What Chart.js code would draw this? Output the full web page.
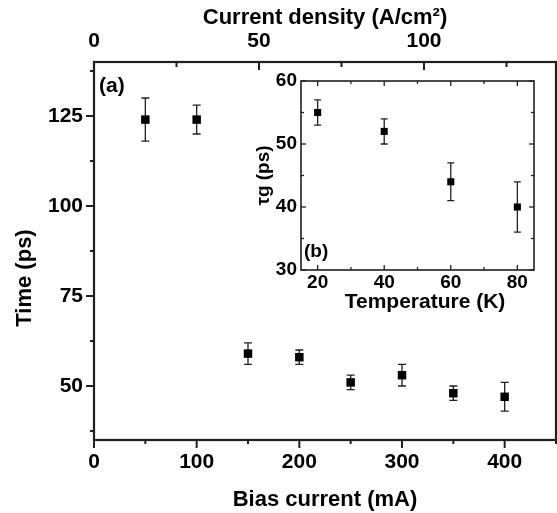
<!DOCTYPE html>
<html><head><meta charset="utf-8">
<script src="https://cdn.jsdelivr.net/npm/chart.js@4.4.0/dist/chart.umd.min.js"></script>
<style>
html,body{margin:0;padding:0;background:#fff;}
#wrap{position:relative;width:557px;height:513px;overflow:hidden;}
#main{position:absolute;left:0;top:0;}
#inset{position:absolute;left:240px;top:60px;}
</style></head><body>
<div id="wrap">
<canvas id="main" width="557" height="513"></canvas>
<canvas id="inset" width="305" height="260"></canvas>
</div>
<script>
// ---- data ----
const biasCurrent = [50, 100, 150, 200, 250, 300, 350, 400];
const timeValues  = [124, 124, 59, 58, 51, 53, 48, 47];
const timeErrors  = [6, 4, 3, 2, 2, 3, 2, 4];

const temperature = [20, 40, 60, 80];
const tauValues   = [55, 52, 44, 40];
const tauErrors   = [2, 2, 3, 4];

const biasTickLabels    = [0, 100, 200, 300, 400];
const timeTickLabels    = [50, 75, 100, 125];
const densityTickLabels = [0, 50, 100];
const tempTickLabels    = [20, 40, 60, 80];
const tempTickMarks     = [20, 30, 40, 50, 60, 70, 80];
const tauTickLabels     = [30, 40, 50, 60];

const FONT = "'Liberation Sans', Arial, Helvetica, sans-serif";
const INK = '#231f20';

function pts(xs, ys) { return xs.map((x, i) => ({x: x, y: ys[i]})); }
function fixH(h) { return s => { s.height = h; s.paddingLeft = 0; s.paddingRight = 0; }; }
function fixW(w) { return s => { s.width = w; s.paddingTop = 0; s.paddingBottom = 0; }; }

function errorBarPlugin(errs, cap, lw) {
  return {
    id: 'errbars',
    beforeDatasetsDraw(chart) {
      const ctx = chart.ctx;
      const xs = chart.scales.x, ys = chart.scales.y;
      ctx.save();
      ctx.strokeStyle = INK; ctx.lineWidth = lw;
      chart.data.datasets[0].data.forEach((p, i) => {
        const px = xs.getPixelForValue(p.x);
        const y1 = ys.getPixelForValue(p.y + errs[i]);
        const y2 = ys.getPixelForValue(p.y - errs[i]);
        ctx.beginPath();
        ctx.moveTo(px, y1); ctx.lineTo(px, y2);
        ctx.moveTo(px - cap, y1); ctx.lineTo(px + cap, y1);
        ctx.moveTo(px - cap, y2); ctx.lineTo(px + cap, y2);
        ctx.stroke();
      });
      ctx.restore();
    }
  };
}

function framePlugin(frameW, specs, texts) {
  return {
    id: 'frame',
    afterDraw(chart) {
      const ctx = chart.ctx, a = chart.chartArea;
      ctx.save();
      ctx.strokeStyle = INK; ctx.lineWidth = frameW;
      ctx.strokeRect(a.left, a.top, a.right - a.left, a.bottom - a.top);
      specs.forEach(sp => {
        const s = chart.scales[sp.scale];
        ctx.lineWidth = sp.width;
        s.ticks.forEach(t => {
          const major = sp.majors.includes(t.value);
          const len = major ? sp.major : sp.minor;
          const p = s.getPixelForValue(t.value);
          ctx.beginPath();
          if (sp.side === 'left') {
            const d = sp.dir === 'out' ? -len : len;
            ctx.moveTo(a.left, p); ctx.lineTo(a.left + d, p);
          } else if (sp.side === 'right') {
            const d = sp.dir === 'out' ? len : -len;
            ctx.moveTo(a.right, p); ctx.lineTo(a.right + d, p);
          } else if (sp.side === 'bottom') {
            const d = sp.dir === 'out' ? len : -len;
            ctx.moveTo(p, a.bottom); ctx.lineTo(p, a.bottom + d);
          } else {
            const d = sp.dir === 'out' ? -len : len;
            ctx.moveTo(p, a.top); ctx.lineTo(p, a.top + d);
          }
          ctx.stroke();
        });
      });
      ctx.fillStyle = '#000';
      texts.forEach(tx => {
        ctx.save();
        ctx.font = tx.font;
        ctx.textAlign = tx.align || 'left';
        ctx.textBaseline = 'middle';
        ctx.translate(tx.x, tx.y);
        if (tx.rot) ctx.rotate(tx.rot);
        ctx.fillText(tx.text, 0, 0);
        ctx.restore();
      });
      ctx.restore();
    }
  };
}

// ---- main chart ----
new Chart(document.getElementById('main'), {
  type: 'scatter',
  data: {
    datasets: [{
      data: pts(biasCurrent, timeValues),
      pointStyle: 'rect',
      pointRadius: 6,
      pointHoverRadius: 6,
      backgroundColor: '#000',
      borderWidth: 0,
      showLine: false
    }]
  },
  options: {
    responsive: false,
    animation: false,
    events: [],
    layout: { autoPadding: false, padding: { left: 0, right: 1, top: 0, bottom: 0 } },
    plugins: { legend: { display: false }, tooltip: { enabled: false } },
    scales: {
      x: {
        type: 'linear', position: 'bottom', min: 0, max: 450,
        afterFit: fixH(73),
        border: { display: false },
        grid: { display: false, drawTicks: true, tickLength: 10 },
        ticks: {
          stepSize: 50, padding: 0, color: '#000',
          font: { family: FONT, size: 21, weight: 'bold' },
          maxRotation: 0, autoSkip: false,
          callback: v => biasTickLabels.includes(v) ? String(v) : ''
        },
        title: {
          display: true, text: 'Bias current (mA)', color: '#000',
          font: { family: FONT, size: 22, weight: 'bold' },
          padding: { top: 0, bottom: 0 }
        }
      },
      x2: {
        type: 'linear', position: 'top', min: 0, max: 140,
        afterFit: fixH(62),
        border: { display: false },
        grid: { display: false, drawTicks: true, tickLength: 8 },
        ticks: {
          stepSize: 25, padding: 0, color: '#000', includeBounds: false,
          font: { family: FONT, size: 21, weight: 'bold' },
          maxRotation: 0, autoSkip: false,
          callback: v => densityTickLabels.includes(v) ? String(v) : ''
        },
        title: {
          display: true, text: 'Current density (A/cm\u00B2)', color: '#000',
          font: { family: FONT, size: 22, weight: 'bold' },
          padding: { top: 5, bottom: 0 }
        }
      },
      y: {
        type: 'linear', position: 'left', min: 35, max: 140,
        afterFit: fixW(94),
        border: { display: false },
        grid: { display: false, drawTicks: false },
        ticks: {
          stepSize: 12.5, padding: 11, color: '#000', includeBounds: false,
          font: { family: FONT, size: 21, weight: 'bold' },
          autoSkip: false,
          callback: v => timeTickLabels.includes(v) ? String(v) : ''
        },
        title: { display: false }
      }
    }
  },
  plugins: [
    errorBarPlugin(timeErrors, 4, 1.3),
    framePlugin(2.2, [
      { scale: 'y', side: 'left', dir: 'out', major: 8, minor: 4, width: 2, majors: timeTickLabels },
      { scale: 'x', side: 'bottom', dir: 'out', major: 8, minor: 4, width: 2, majors: biasTickLabels },
      { scale: 'x2', side: 'top', dir: 'in', major: 8, minor: 5, width: 2, majors: densityTickLabels }
    ], [
      { text: 'Time (ps)', x: 25, y: 278, rot: -Math.PI / 2, align: 'center', font: "bold 22px " + FONT },
      { text: '(a)', x: 99, y: 86, align: 'left', font: "bold 21px " + FONT }
    ])
  ]
});

// ---- inset chart ----
new Chart(document.getElementById('inset'), {
  type: 'scatter',
  data: {
    datasets: [{
      data: pts(temperature, tauValues),
      pointStyle: 'rect',
      pointRadius: 5,
      pointHoverRadius: 5,
      backgroundColor: '#000',
      borderWidth: 0,
      showLine: false
    }]
  },
  options: {
    responsive: false,
    animation: false,
    events: [],
    layout: { autoPadding: false, padding: { left: 0, right: 11, top: 21, bottom: 0 } },
    plugins: { legend: { display: false }, tooltip: { enabled: false } },
    scales: {
      x: {
        type: 'linear', position: 'bottom', min: 15, max: 85,
        afterFit: fixH(50),
        afterBuildTicks: s => { s.ticks = tempTickMarks.map(v => ({ value: v })); },
        border: { display: false },
        grid: { display: false, drawTicks: true, tickLength: 1 },
        ticks: {
          padding: 0, color: '#000',
          font: { family: FONT, size: 19, weight: 'bold' },
          maxRotation: 0, autoSkip: false,
          callback: v => tempTickLabels.includes(v) ? String(v) : ''
        },
        title: { display: false }
      },
      y: {
        type: 'linear', position: 'left', min: 30, max: 60,
        afterFit: fixW(61),
        border: { display: false },
        grid: { display: false, drawTicks: false },
        ticks: {
          stepSize: 5, padding: 4, color: '#000',
          font: { family: FONT, size: 19, weight: 'bold' },
          autoSkip: false,
          callback: v => tauTickLabels.includes(v) ? String(v) : ''
        },
        title: {
          display: true, text: '\u03C4g (ps)', color: '#000',
          font: { family: FONT, size: 19, weight: 'bold' },
          padding: { top: 12, bottom: 0 }
        }
      }
    }
  },
  plugins: [
    errorBarPlugin(tauErrors, 3.5, 1.3),
    framePlugin(1.6, [
      { scale: 'y', side: 'left', dir: 'in', major: 5, minor: 3, width: 1.3, majors: tauTickLabels },
      { scale: 'y', side: 'right', dir: 'in', major: 5, minor: 3, width: 1.3, majors: tauTickLabels },
      { scale: 'x', side: 'bottom', dir: 'in', major: 5, minor: 3, width: 1.3, majors: tempTickLabels },
      { scale: 'x', side: 'top', dir: 'in', major: 5, minor: 3, width: 1.3, majors: tempTickLabels }
    ], [
      { text: '(b)', x: 64, y: 192, align: 'left', font: "bold 19px " + FONT },
      { text: 'Temperature (K)', x: 185, y: 242, align: 'center', font: "bold 21px " + FONT }
    ])
  ]
});
</script>
</body></html>
